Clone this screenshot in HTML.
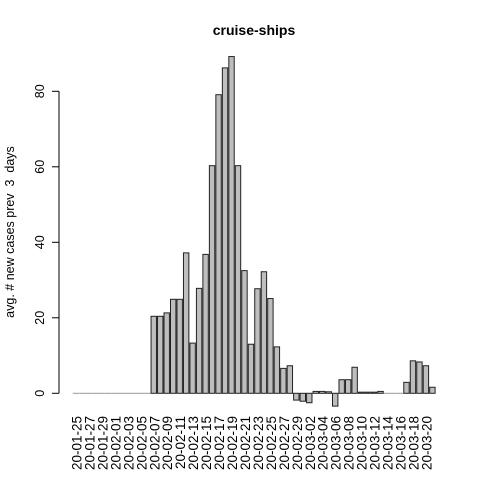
<!DOCTYPE html>
<html><head><meta charset="utf-8"><style>
body{margin:0;background:#fff;}
svg{display:block;font-family:"Liberation Sans",Arial,sans-serif;}
</style></head><body>
<svg id="chart" width="480" height="480">
<text x="254" y="35" text-anchor="middle" font-size="14" font-weight="bold">cruise-ships</text>
<text transform="translate(14,232) rotate(-90)" text-anchor="middle" font-size="12.5" xml:space="preserve" style="white-space:pre">avg. # new cases prev  3  days</text>
<g id="yaxis"></g>
<g id="bars"></g>
<g id="xlabels"></g>
</svg>
<script>
const xLabels=["20-01-25","20-01-27","20-01-29","20-02-01","20-02-03","20-02-05","20-02-07","20-02-09","20-02-11","20-02-13","20-02-15","20-02-17","20-02-19","20-02-21","20-02-23","20-02-25","20-02-27","20-02-29","20-03-02","20-03-04","20-03-06","20-03-08","20-03-10","20-03-12","20-03-14","20-03-16","20-03-18","20-03-20"];
const values=[0,0,0,0,0,0,0,0,0,0,0,0,
20.4,20.4,21.3,24.9,24.9,37.2,13.3,27.8,36.8,60.3,79.1,86.2,89.2,60.3,32.5,13,27.7,32.2,25.1,12.3,6.6,7.3,
-1.8,-2.1,-2.5,0.5,0.5,0.4,-3.4,3.6,3.6,6.9,0.3,0.3,0.3,0.5,0,0,0,2.9,8.6,8.3,7.3,1.6];
const yTicks=[0,20,40,60,80];
const NS="http://www.w3.org/2000/svg";
const left0=73.3, pitch=6.48, bw=pitch/1.2;
function xc(i){return left0+i*pitch+bw/2;}
function y(v){return 393.3-v*3.775;}
const ya=document.getElementById('yaxis');
function mk(tag,attrs,parent){const e=document.createElementNS(NS,tag);for(const k in attrs)e.setAttribute(k,attrs[k]);parent.appendChild(e);return e;}
const axl=mk('line',{x1:59,x2:59,y1:y(yTicks[0]),y2:y(yTicks[yTicks.length-1]),stroke:'#000'},ya);


yTicks.forEach(t=>{
  const tk=mk('line',{x1:52,x2:59,y1:y(t),y2:y(t),stroke:'#000'},ya);
  
  
  const tx=mk('text',{transform:`translate(44,${y(t)}) rotate(-90)`,'text-anchor':'middle','font-size':12.5},ya);
  tx.textContent=t;
  
  
});
const bars=document.getElementById('bars');
values.forEach((v,i)=>{
  const x=left0+i*pitch;
  const top=Math.min(y(v),y(0)), h=Math.abs(y(v)-y(0));
  const r=mk('rect',{x:x,y:top,width:bw,height:Math.max(h,0.01),fill:'#bebebe',stroke:h<0.5?'#999':'#222','stroke-width':1},bars);
  
  
});
const xl=document.getElementById('xlabels');
xLabels.forEach((l,j)=>{
  const t=mk('text',{transform:`translate(${xc(j*2)+5.5},416) rotate(-90)`,'text-anchor':'end','font-size':13.5},xl);
  t.textContent=l;
  
  
});
</script>
</body></html>
